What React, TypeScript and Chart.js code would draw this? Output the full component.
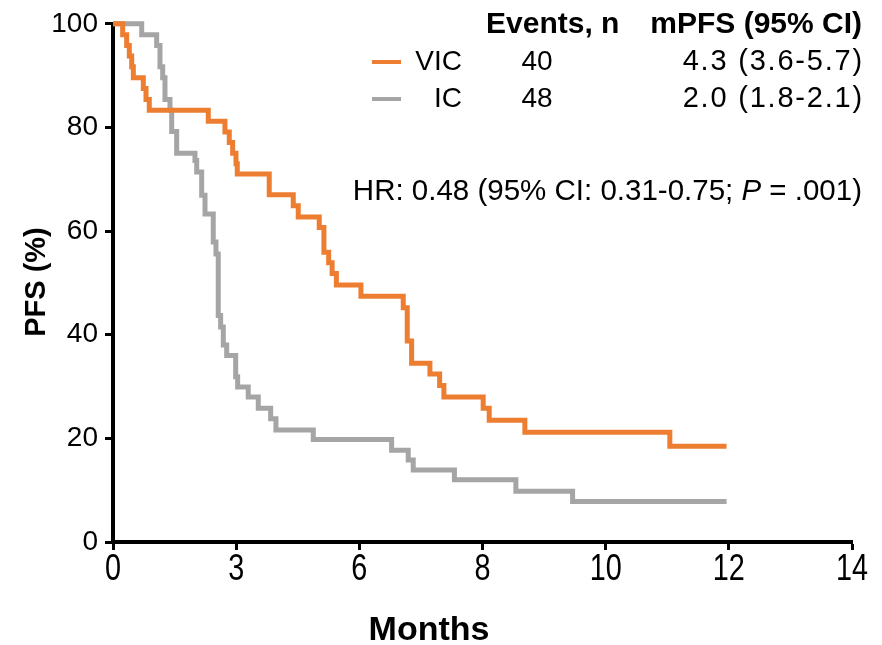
import React, { useEffect, useRef } from "react";
import { Chart, registerables } from "chart.js";

Chart.register(...registerables);

// x values in axis units (ticks every 2 units, labelled by xTickLabels)
const xTickLabels = ["0", "3", "6", "8", "10", "12", "14"];
const yTickValues = [0, 20, 40, 60, 80, 100];

const vicX = [0, 0.157, 0.222, 0.265, 0.304, 0.33, 0.492, 0.536, 0.589, 1.547, 1.818, 1.888, 1.943, 1.997, 2.018, 2.537, 2.927, 3.008, 3.349, 3.425, 3.502, 3.558, 3.627, 4.026, 4.713, 4.778, 4.849, 5.146, 5.304, 5.373, 6.011, 6.109, 6.688, 9.042, 9.963];
const vicY = [100, 97.9, 95.8, 93.8, 91.7, 89.6, 87.5, 85.4, 83.3, 81.2, 79.1, 77.1, 75.0, 73.0, 71.0, 67.0, 64.9, 62.7, 60.7, 55.9, 53.9, 51.8, 49.6, 47.4, 45.2, 38.8, 34.5, 32.4, 30.2, 28.0, 25.8, 23.5, 21.2, 18.5, 18.5];

const icX = [0, 0.466, 0.709, 0.763, 0.807, 0.844, 0.925, 0.953, 1.034, 1.331, 1.359, 1.44, 1.494, 1.628, 1.672, 1.709, 1.748, 1.791, 1.846, 1.992, 2.024, 2.196, 2.359, 2.56, 2.646, 3.252, 4.524, 4.794, 4.875, 5.544, 6.542, 7.463, 9.963];
const icY = [100, 97.9, 95.8, 91.7, 89.6, 85.4, 83.3, 79.2, 75.0, 73.6, 71.4, 66.9, 63.3, 57.9, 55.6, 43.7, 41.5, 38.0, 36.0, 31.9, 29.9, 28.0, 25.8, 23.8, 21.6, 19.8, 17.7, 15.8, 13.9, 12.0, 9.8, 7.8, 7.8];

const seriesNames = ["VIC", "IC"];
const seriesColors = ["#ED7D31", "#A5A5A5"];
const eventsN = ["40", "48"];
const mpfsText = ["4.3 (3.6-5.7)", "2.0 (1.8-2.1)"];
const headerEvents = "Events, n";
const headerMpfs = "mPFS (95% CI)";
const hrParts = ["HR: 0.48 (95% CI: 0.31-0.75; ", "P", " = .001)"];
const xTitle = "Months";
const yTitle = "PFS (%)";

const FONT = '"Liberation Sans", Arial, Helvetica, sans-serif';

const annotPlugin = {
  id: "annot",
  afterDraw(chart: any) {
    const ctx = chart.ctx as any;
    ctx.save();
    ctx.fillStyle = "#000";
    ctx.textBaseline = "middle";
    // x tick labels (narrow, tall) at the scale's tick positions
    const xs = chart.scales.x;
    ctx.font = `36px ${FONT}`;
    ctx.textAlign = "center";
    xs.ticks.forEach((t: any, i: number) => {
      const px = xs.getPixelForValue(t.value);
      ctx.save();
      ctx.translate(px, 570);
      ctx.scale(0.8, 1);
      ctx.fillText(xTickLabels[i], 0, 0);
      ctx.restore();
    });
    // header
    ctx.font = `bold 30px ${FONT}`;
    ctx.textAlign = "left";
    ctx.fillText(headerEvents, 486, 25);
    ctx.textAlign = "right";
    ctx.fillText(headerMpfs, 862, 25);
    // rows
    const rowY = [62, 99];
    for (let i = 0; i < seriesNames.length; i++) {
      const y = rowY[i];
      ctx.strokeStyle = seriesColors[i];
      ctx.lineWidth = 4;
      ctx.beginPath();
      ctx.moveTo(372, y);
      ctx.lineTo(401, y);
      ctx.stroke();
      ctx.font = `28px ${FONT}`;
      ctx.fillStyle = "#000";
      ctx.textAlign = "right";
      ctx.fillText(seriesNames[i], 462, y);
      ctx.textAlign = "center";
      ctx.fillText(eventsN[i], 537, y);
      ctx.font = `29px ${FONT}`;
      ctx.textAlign = "right";
      ctx.letterSpacing = "1.8px";
      ctx.fillText(mpfsText[i], 864, y);
      ctx.letterSpacing = "0px";
    }
    // HR text
    ctx.textAlign = "left";
    const fN = `29.5px ${FONT}`;
    const fI = `italic 29.5px ${FONT}`;
    const fonts = [fN, fI, fN];
    let total = 0;
    const widths: number[] = [];
    for (let i = 0; i < hrParts.length; i++) {
      ctx.font = fonts[i];
      const w = ctx.measureText(hrParts[i]).width;
      widths.push(w);
      total += w;
    }
    let x = 862 - total;
    for (let i = 0; i < hrParts.length; i++) {
      ctx.font = fonts[i];
      ctx.fillText(hrParts[i], x, 192);
      x += widths[i];
    }
    // axis titles
    ctx.font = `bold 34px ${FONT}`;
    ctx.textAlign = "center";
    ctx.fillText(xTitle, 429, 631);
    ctx.save();
    ctx.translate(37, 282);
    ctx.rotate(-Math.PI / 2);
    ctx.font = `bold 29px ${FONT}`;
    ctx.fillText(yTitle, 0, 0);
    ctx.restore();
    ctx.restore();
  },
};

export default function App() {
  const ref = useRef<HTMLCanvasElement | null>(null);
  useEffect(() => {
    if (!ref.current) return;
    const mk = (i: number, xs: number[], ys: number[]) => ({
      label: seriesNames[i],
      data: xs.map((x, k) => ({ x, y: ys[k] })),
      borderColor: seriesColors[i],
      borderWidth: 5,
      stepped: "before" as const,
      pointRadius: 0,
      fill: false,
      clip: false as any,
      borderCapStyle: "butt" as const,
      borderJoinStyle: "miter" as const,
    });
    const chart = new Chart(ref.current, {
      type: "line",
      data: {
        datasets: [mk(0, vicX, vicY), mk(1, icX, icY)],
      },
      options: {
        animation: false,
        responsive: false,
        maintainAspectRatio: false,
        layout: { padding: { top: 23, right: 30, left: 0, bottom: 0 } },
        plugins: { legend: { display: false }, tooltip: { enabled: false } },
        scales: {
          x: {
            type: "linear",
            min: 0,
            max: 12,
            afterFit(scale: any) {
              scale.height = 103;
            },
            afterBuildTicks(scale: any) {
              scale.ticks = xTickLabels.map((_, i) => ({ value: i * 2 }));
            },
            ticks: {
              display: false,
              autoSkip: false,
              maxRotation: 0,
            },
            grid: {
              display: true,
              drawOnChartArea: false,
              drawTicks: true,
              tickLength: 8,
              tickWidth: 3,
              tickColor: "#000",
            },
            border: { display: true, color: "#000", width: 4 },
          },
          y: {
            type: "linear",
            min: 0,
            max: 100,
            afterFit(scale: any) {
              scale.width = 113;
            },
            afterBuildTicks(scale: any) {
              scale.ticks = yTickValues.map((v) => ({ value: v }));
            },
            ticks: {
              color: "#000",
              padding: 7,
              font: { family: FONT, size: 28 },
            },
            grid: {
              display: true,
              drawOnChartArea: false,
              drawTicks: true,
              tickLength: 8,
              tickWidth: 3,
              tickColor: "#000",
            },
            border: { display: true, color: "#000", width: 4 },
          },
        },
      },
      plugins: [annotPlugin],
    });
    return () => chart.destroy();
  }, []);
  return (
    <div style={{ position: "absolute", left: 0, top: 0, width: 882, height: 645, background: "#fff" }}>
      <canvas ref={ref} width={882} height={645} style={{ display: "block" }} />
    </div>
  );
}
